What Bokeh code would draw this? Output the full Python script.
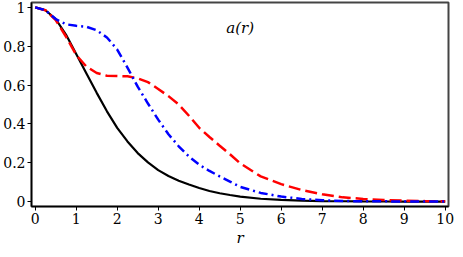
from bokeh.plotting import figure
from bokeh.models import ColumnDataSource, FixedTicker, Range1d
from bokeh.core.properties import value
from bokeh.embed import file_html
from bokeh.resources import INLINE

r_vals = [0, 0.25, 0.5, 0.75, 1.0, 1.25, 1.5, 1.75, 2.0, 2.25, 2.5, 2.75, 3.0,
          3.25, 3.5, 3.75, 4.0, 4.25, 4.5, 4.75, 5.0, 5.5, 6.0, 6.5, 7.0, 7.5,
          8.0, 8.5, 9.0, 9.5, 10.0]

black_vals = [1.0, 0.985, 0.94, 0.86, 0.76, 0.66, 0.56, 0.465, 0.38, 0.31, 0.25,
              0.202, 0.162, 0.132, 0.108, 0.088, 0.07, 0.055, 0.043, 0.034, 0.026,
              0.015, 0.009, 0.005, 0.003, 0.002, 0.001, 0.0007, 0.0004, 0.0002, 0.0001]

red_vals = [1.0, 0.985, 0.935, 0.85, 0.755, 0.695, 0.662, 0.648, 0.647, 0.645, 0.635,
            0.615, 0.58, 0.543, 0.50, 0.442, 0.38, 0.333, 0.288, 0.244, 0.197,
            0.13, 0.09, 0.06, 0.038, 0.022, 0.014, 0.008, 0.005, 0.003, 0.002]

blue_vals = [1.0, 0.985, 0.94, 0.913, 0.905, 0.9, 0.882, 0.845, 0.783, 0.69, 0.592,
             0.505, 0.422, 0.347, 0.285, 0.232, 0.19, 0.158, 0.13, 0.103, 0.076,
             0.045, 0.026, 0.014, 0.007, 0.003, 0.002, 0.0015, 0.001, 0.0005, 0.0002]

x_ticks = [0, 1, 2, 3, 4, 5, 6, 7, 8, 9, 10]
y_ticks = [0, 0.2, 0.4, 0.6, 0.8, 1]
y_tick_labels = {0: "0", 0.2: "0.2", 0.4: "0.4", 0.6: "0.6", 0.8: "0.8", 1: "1"}

FONT = "DejaVu Serif"

src = ColumnDataSource(dict(r=r_vals, black=black_vals, red=red_vals, blue=blue_vals))

p = figure(width=455, height=249, output_backend="svg", toolbar_location=None,
           x_range=Range1d(-0.09, 10.08), y_range=Range1d(-0.025, 1.025),
           min_border_top=2, min_border_right=7, min_border_left=0, min_border_bottom=0)

p.line("r", "black", source=src, line_color="black", line_width=2.2)
p.line("r", "red", source=src, line_color="#ff0000", line_width=2.5, line_dash="12 5")
p.line("r", "blue", source=src, line_color="#0000ff", line_width=2.5, line_dash="9 4 2 4")

p.text(x=[5.0], y=[0.895], text=["a(r)"], text_font=value(FONT),
       text_font_style="italic", text_font_size="15px", text_align="center",
       text_baseline="middle", text_color="black")

p.xgrid.visible = False
p.ygrid.visible = False
p.outline_line_color = "#444444"
p.outline_line_width = 2
p.background_fill_color = "white"
p.border_fill_color = "white"

p.xaxis.ticker = FixedTicker(ticks=x_ticks)
p.yaxis.ticker = FixedTicker(ticks=y_ticks)
p.yaxis.major_label_overrides = y_tick_labels
for ax in (p.xaxis[0], p.yaxis[0]):
    ax.major_label_text_font = FONT
    ax.major_label_text_font_size = "14px"
    ax.major_label_text_color = "black"
    ax.axis_line_color = "black"
    ax.axis_line_width = 1.5
    ax.major_tick_line_color = "black"
    ax.major_tick_in = 0
    ax.major_tick_out = 4
    ax.minor_tick_line_color = None
    ax.major_label_standoff = 2

p.xaxis.axis_label = "r"
p.xaxis.axis_label_text_font = FONT
p.xaxis.axis_label_text_font_style = "italic"
p.xaxis.axis_label_text_font_size = "15px"
p.xaxis.axis_label_text_color = "black"
p.xaxis.axis_label_standoff = 2

open("out.html", "w").write(file_html(p, INLINE))
